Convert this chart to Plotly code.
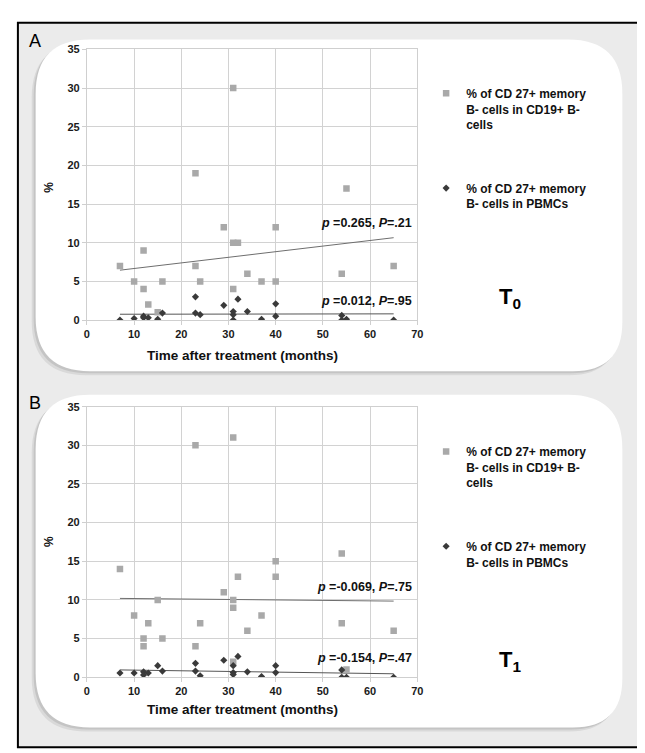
import plotly.graph_objects as go

W, H = 645, 753

# ---------------- data ----------------
x_range = [0, 70]
y_range = [0, 35]

# Panel A (T0)
a_months_cd19 = [7, 10, 12, 12, 13, 15, 16, 23, 23, 24, 29, 31, 31, 31, 32, 34, 37, 40, 40, 54, 55, 65]
a_cd19 = [7, 5, 9, 4, 2, 1, 5, 19, 7, 5, 12, 30, 10, 4, 10, 6, 5, 12, 5, 6, 17, 7]
a_months_pbmc = [7, 10, 12, 12, 13, 15, 16, 23, 23, 24, 29, 31, 31, 31, 32, 34, 37, 40, 40, 54, 54, 55, 65]
a_pbmc = [0, 0.2, 0.5, 0.3, 0.3, 0.1, 0.9, 3.0, 0.9, 0.7, 1.9, 1.1, 0.7, 0.0, 2.7, 1.1, 0.1, 2.1, 0.5, 0.6, 0.0, 0.1, 0.0]
a_trend_x = [7, 65]
a_trend_cd19 = [6.45, 10.65]
a_trend_pbmc = [0.75, 0.8]
a_stats = ["<i>p</i> =0.265, <i>P</i>=.21", "<i>p</i> =0.012, <i>P</i>=.95"]
a_stats_y = [12.5, 2.5]

# Panel B (T1)
b_months_cd19 = [7, 10, 12, 12, 13, 15, 16, 23, 23, 24, 29, 31, 31, 31, 31, 32, 34, 37, 40, 40, 54, 54, 55, 65]
b_cd19 = [14, 8, 5, 4, 7, 10, 5, 30, 4, 7, 11, 31, 10, 9, 2, 13, 6, 8, 15, 13, 16, 7, 1, 6]
b_months_pbmc = [7, 10, 12, 12, 13, 15, 16, 23, 23, 24, 29, 31, 31, 31, 32, 34, 37, 40, 40, 54, 54, 55, 65]
b_pbmc = [0.55, 0.55, 0.7, 0.3, 0.55, 1.5, 0.8, 1.8, 0.8, 0.2, 2.2, 1.5, 0.6, 0.35, 2.7, 0.7, 0.1, 1.5, 0.6, 0.95, 0.0, 0.0, 0.0]
b_trend_x = [7, 65]
b_trend_cd19 = [10.2, 9.85]
b_trend_pbmc = [0.95, 0.45]
b_stats = ["<i>p</i> =-0.069, <i>P</i>=.75", "<i>p</i> =-0.154, <i>P</i>=.47"]
b_stats_y = [11.7, 2.5]

name_cd19 = "<b>% of CD 27+ memory<br>B- cells in CD19+ B-<br>cells</b>"
name_pbmc = "<b>% of CD 27+ memory<br>B- cells in PBMCs</b>"
x_title = "Time after treatment (months)"
y_title = "%"

FONT = "Liberation Sans, Arial, sans-serif"
GRAY_SQ = "#a9a9a9"
DARK_DI = "#3a3a3a"


def px(x):
    return x / W


def py(y):
    return 1 - y / H


def rrect(x0, y0, x1, y1, rtl, rtr, rbr, rbl):
    pts = [
        ("M", (x0 + rtl, y0)), ("L", (x1 - rtr, y0)),
        ("Q", (x1, y0), (x1, y0 + rtr)), ("L", (x1, y1 - rbr)),
        ("Q", (x1, y1), (x1 - rbr, y1)), ("L", (x0 + rbl, y1)),
        ("Q", (x0, y1), (x0, y1 - rbl)), ("L", (x0, y0 + rtl)),
        ("Q", (x0, y0), (x0 + rtl, y0)),
    ]
    s = ""
    for p in pts:
        cmd = p[0]
        coords = " ".join(f"{px(c[0]):.5f},{py(c[1]):.5f}" for c in p[1:])
        s += f"{cmd} {coords} "
    return s + "Z"


fig = go.Figure()

panels = [
    dict(xa="x", ya="y", legend="legend", mx=a_months_cd19, my=a_cd19, dx=a_months_pbmc, dy=a_pbmc,
         tx=a_trend_x, t1=a_trend_cd19, t2=a_trend_pbmc, st=a_stats, sty=a_stats_y),
    dict(xa="x2", ya="y2", legend="legend2", mx=b_months_cd19, my=b_cd19, dx=b_months_pbmc, dy=b_pbmc,
         tx=b_trend_x, t1=b_trend_cd19, t2=b_trend_pbmc, st=b_stats, sty=b_stats_y),
]

for p in panels:
    fig.add_trace(go.Scatter(x=p["tx"], y=p["t1"], mode="lines", xaxis=p["xa"], yaxis=p["ya"],
                             line=dict(color="#6e6e6e", width=1), showlegend=False, hoverinfo="skip"))
    fig.add_trace(go.Scatter(x=p["tx"], y=p["t2"], mode="lines", xaxis=p["xa"], yaxis=p["ya"],
                             line=dict(color="#555555", width=1), showlegend=False, hoverinfo="skip"))
    fig.add_trace(go.Scatter(x=p["mx"], y=p["my"], mode="markers", xaxis=p["xa"], yaxis=p["ya"],
                             name=name_cd19, legend=p["legend"], legendgroup="g1",
                             marker=dict(symbol="square", size=6.5, color=GRAY_SQ)))
    fig.add_trace(go.Scatter(x=p["dx"], y=p["dy"], mode="markers", xaxis=p["xa"], yaxis=p["ya"],
                             name=name_pbmc, legend=p["legend"], legendgroup="g2",
                             marker=dict(symbol="diamond", size=5.5, color=DARK_DI)))

# ---------------- shapes: background, panels ----------------
shapes = []
shapes.append(dict(type="rect", xref="paper", yref="paper", x0=px(7), x1=px(637), y0=py(745), y1=py(9),
                   fillcolor="#ebebeb", line=dict(color="#000000", width=2), layer="below"))
for (y0, y1) in [(26, 363), (387, 725)]:
    shapes.append(dict(type="path", xref="paper", yref="paper", path=rrect(21, y0 + 4, 616, y1 + 4, 55, 55, 50, 55),
                       fillcolor="#d9d9d9", line=dict(width=0), layer="below"))
    shapes.append(dict(type="path", xref="paper", yref="paper", path=rrect(23, y0 + 2, 618, y1 + 2, 55, 55, 50, 55),
                       fillcolor="#c4c4c4", line=dict(width=0), layer="below"))
    shapes.append(dict(type="path", xref="paper", yref="paper", path=rrect(25, y0, 620, y1, 55, 55, 50, 55),
                       fillcolor="#ffffff", line=dict(width=0), layer="below"))

# ---------------- annotations ----------------
ann = []
for p, (lab, ly), ycent, xt_y, tlab in [
    (panels[0], ("A", 27), 176, 347, "<b>T<sub>0</sub></b>"),
    (panels[1], ("B", 395), 536, 707, "<b>T<sub>1</sub></b>"),
]:
    ann.append(dict(text=lab, xref="paper", yref="paper", x=px(24), y=py(ly), showarrow=False,
                    xanchor="center", yanchor="middle", font=dict(family=FONT, size=18, color="#000")))
    ann.append(dict(text=y_title, xref="paper", yref="paper", x=px(39), y=py(ycent), showarrow=False,
                    textangle=-90, xanchor="center", yanchor="middle",
                    font=dict(family=FONT, size=12, color="#111", weight="bold")))
    ann.append(dict(text=x_title, xref="paper", yref="paper", x=px(235), y=py(xt_y), showarrow=False,
                    xanchor="center", yanchor="middle",
                    font=dict(family=FONT, size=13.5, color="#111", weight="bold")))
    ann.append(dict(text=tlab, xref="paper", yref="paper", x=px(506), y=py(ly + 262), showarrow=False,
                    xanchor="center", yanchor="middle",
                    font=dict(family=FONT, size=22, color="#000", weight="bold")))
    for s, sy in zip(p["st"], p["sty"]):
        ann.append(dict(text=s, xref=p["xa"], yref=p["ya"], x=69.4, y=sy, showarrow=False,
                        xanchor="right", yanchor="middle",
                        font=dict(family=FONT, size=12.5, color="#111", weight="bold")))

axis_common = dict(range=x_range, dtick=10, showgrid=True, gridcolor="#d2d2d2", gridwidth=1,
                   zeroline=False, showline=True, linecolor="#cfcfcf", mirror=True,
                   ticks="outside", ticklen=4, tickcolor="#cfcfcf",
                   tickfont=dict(family=FONT, size=11, color="#1a1a1a", weight="bold"))
yaxis_common = dict(axis_common)
yaxis_common.update(range=y_range, dtick=5)

xdom = [px(77), px(412)]
legend_common = dict(x=px(421), xanchor="left", yanchor="top", bgcolor="rgba(0,0,0,0)",
                     font=dict(family=FONT, size=12, color="#111", weight="bold"), valign="top",
                     tracegroupgap=45, itemclick=False)
fig.update_layout(
    width=W, height=H, margin=dict(l=0, r=0, t=0, b=0),
    paper_bgcolor="#ffffff", plot_bgcolor="rgba(0,0,0,0)",
    xaxis=dict(axis_common, domain=xdom, anchor="y"),
    yaxis=dict(yaxis_common, domain=[py(311), py(36)], anchor="x"),
    xaxis2=dict(axis_common, domain=xdom, anchor="y2"),
    yaxis2=dict(yaxis_common, domain=[py(674), py(399)], anchor="x2"),
    shapes=shapes, annotations=ann,
    legend=dict(legend_common, y=py(66)),
    legend2=dict(legend_common, y=py(430)),
    showlegend=True,
)

fig.write_html("out.html")
